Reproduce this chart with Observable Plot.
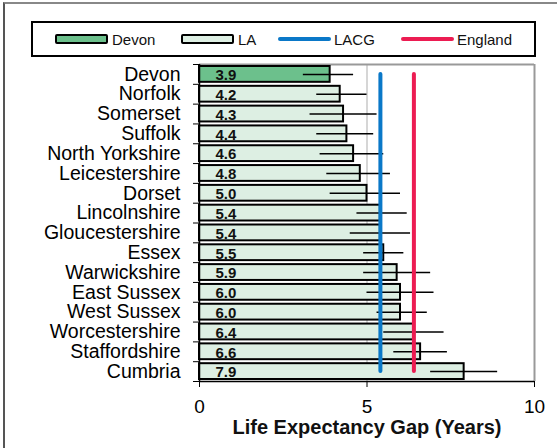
<!DOCTYPE html>
<html><head><meta charset="utf-8">
<script src="https://cdn.jsdelivr.net/npm/d3@7"></script>
<script src="https://cdn.jsdelivr.net/npm/@observablehq/plot@0.6"></script>
<style>
body{margin:0;background:#fff;font-family:"Liberation Sans",Arial,sans-serif;}
#wrap{position:relative;width:557px;height:448px;overflow:hidden;background:#fff;}
#border{position:absolute;left:3px;top:2px;width:600px;height:500px;border-left:2px solid #555;border-top:2px solid #888;}
#legend{position:absolute;left:31px;top:21px;width:501px;height:32px;border:2px solid #000;background:#fff;}
.item{position:absolute;top:0;height:32px;display:flex;align-items:center;font-size:15px;color:#111;}
.sw{width:49px;height:6px;border:2px solid #000;border-radius:2px;margin-right:4px}
.ln{width:53px;height:4px;border-radius:2px;margin-right:3px}
#chart{position:absolute;left:0;top:60px;}
#chart svg{font-family:"Liberation Sans",Arial,sans-serif;}
</style></head>
<body>
<div id="wrap">
  <div id="border"></div>
  <div id="legend"></div>
  <div id="chart"></div>
</div>
<script>
const names = ["Devon","Norfolk","Somerset","Suffolk","North Yorkshire","Leicestershire","Dorset","Lincolnshire","Gloucestershire","Essex","Warwickshire","East Sussex","West Sussex","Worcestershire","Staffordshire","Cumbria"];
const values = [3.9,4.2,4.3,4.4,4.6,4.8,5.0,5.4,5.4,5.5,5.9,6.0,6.0,6.4,6.6,7.9];
const lower = [3.1,3.5,3.3,3.5,3.6,3.8,3.9,4.7,4.5,4.9,4.9,5.0,5.3,5.5,5.8,6.9];
const upper = [4.6,5.0,5.3,5.2,5.5,5.7,6.0,6.2,6.3,6.1,6.9,7.0,6.8,7.3,7.4,8.9];
const lacgValue = 5.4;
const englandValue = 6.4;
const xTicks = [0,5,10];
const legendItems = ["Devon","LA","LACG","England"];

const colors = {Devon:"#6cc08c", LA:"#ddefe3", LACG:"#0a78c8", England:"#ec1c52"};

const data = names.map((name,i)=>({name,i,value:values[i],lo:lower[i],hi:upper[i]}));

// Legend
const legend = document.getElementById("legend");
const legendX = [22,148,245,368];
legendItems.forEach((k,j)=>{
  const it = document.createElement("div");
  it.className="item"; it.style.left = legendX[j]+"px";
  const s = document.createElement("div");
  if (j<2){ s.className="sw"; s.style.background = colors[k]; }
  else { s.className="ln"; s.style.background = colors[k]; }
  it.appendChild(s);
  const t = document.createElement("span"); t.textContent = k;
  it.appendChild(t);
  legend.appendChild(it);
});

const n = names.length;
const chart = Plot.plot({
  width:557, height:388,
  marginLeft:199, marginRight:23, marginTop:4, marginBottom:67,
  x:{domain:[0,10]},
  y:{domain:[n,0]},
  marks:[
    Plot.ruleX([5],{stroke:"#c8c8c8",strokeWidth:1.5}),
    Plot.ruleY([0],{stroke:"#999",strokeWidth:2}),
    Plot.ruleX([10],{stroke:"#999",strokeWidth:2}),
    Plot.rect(data.filter(d=>d.name!=="Devon"),{x1:()=>0,x2:"value",y1:"i",y2:d=>d.i+1,fill:colors.LA,stroke:"#000",strokeWidth:2,insetTop:2,insetBottom:2}),
    Plot.rect(data.filter(d=>d.name==="Devon"),{x1:()=>0,x2:"value",y1:"i",y2:d=>d.i+1,fill:colors.Devon,stroke:"#000",strokeWidth:2,insetTop:2,insetBottom:2}),
    Plot.ruleY(data,{y:d=>d.i+0.5,x1:"lo",x2:"hi",stroke:"#000",strokeWidth:1.5}),
    Plot.ruleX([lacgValue],{x:d=>d,y1:0.5,y2:n-0.5,stroke:colors.LACG,strokeWidth:4,strokeLinecap:"round"}),
    Plot.ruleX([englandValue],{x:d=>d,y1:0.5,y2:n-0.5,stroke:colors.England,strokeWidth:4,strokeLinecap:"round"}),
    Plot.text(data,{x:0,y:d=>d.i+0.5,text:d=>d.value.toFixed(1),textAnchor:"start",dx:16,dy:1,fontWeight:"bold",fontSize:15,fill:"#111"}),
    Plot.axisY({ticks:data.map(d=>d.i+0.5),tickFormat:v=>names[Math.floor(v)],tickSize:0,tickPadding:19,fontSize:19.5,label:null}),
    Plot.axisY({ticks:d3.range(n+1),tickFormat:()=>"",tickSize:6,label:null}),
    Plot.ruleX([0],{stroke:"#000",strokeWidth:1.5}),
    Plot.ruleY([n],{stroke:"#000",strokeWidth:1.5}),
    Plot.axisX({ticks:xTicks,tickSize:6,tickPadding:12,fontSize:19,label:null}),
    Plot.text(["Life Expectancy Gap (Years)"],{frameAnchor:"bottom",lineAnchor:"bottom",dy:52,fontWeight:"bold",fontSize:20,fill:"#111"})
  ]
});
document.getElementById("chart").appendChild(chart);
</script>
</body></html>
